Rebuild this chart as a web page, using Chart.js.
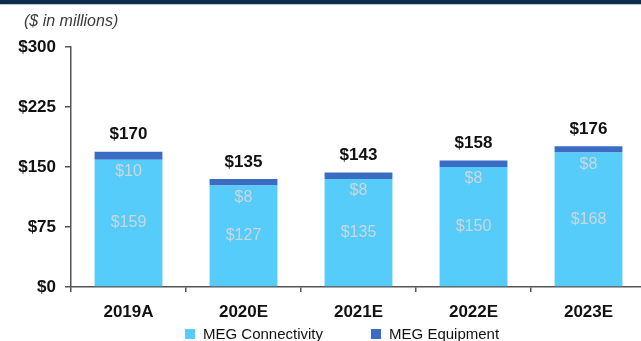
<!DOCTYPE html>
<html>
<head>
<meta charset="utf-8">
<script src="https://cdn.jsdelivr.net/npm/chart.js@4"></script>
<style>
  html, body { margin: 0; padding: 0; background: #fff; overflow: hidden; }
  body { width: 641px; height: 341px; position: relative; font-family: Arial, "Liberation Sans", sans-serif; }
  .topbar { position: absolute; left: 0; top: 0; width: 641px; height: 4px; background: #0d2b4b; box-shadow: 0 1px 1px #b8c0c8; }
  .unit { position: absolute; left: 24px; top: 12px; font-size: 16px; font-style: italic; color: #3a3a3a; }
  #chartBox { position: absolute; left: 0; top: 0; width: 660px; height: 341px; }
  #legend { position: absolute; left: 185px; top: 325px; display: flex; font-size: 15px; color: #111; white-space: nowrap; }
  #legend .item { display: flex; align-items: center; margin-right: 48px; }
  #legend .swatch { width: 10px; height: 10px; margin-right: 8px; }
</style>
</head>
<body>
<div class="topbar"></div>
<div id="chartBox"><canvas id="revChart" width="660" height="341"></canvas></div>
<div class="unit">($ in millions)</div>
<div id="legend"></div>

<script>
const years = ['2019A', '2020E', '2021E', '2022E', '2023E'];
const connectivity = [159, 127, 135, 150, 168];
const equipment = [10, 8, 8, 8, 8];
const totals = [170, 135, 143, 158, 176];
const yTicks = [0, 75, 150, 225, 300];

const connColor = '#55ccfa';
const equipColor = '#3b6cc4';
const boldFont = { family: 'Arial, "Liberation Sans", sans-serif', size: 17, weight: 'bold' };

// value labels: segment amounts inside the bars, totals above them
const barLabels = {
    id: 'barLabels',
    afterDatasetsDraw(chart) {
        const ctx = chart.ctx;
        const connMeta = chart.getDatasetMeta(0);
        const equipMeta = chart.getDatasetMeta(1);
        ctx.save();
        ctx.textAlign = 'center';
        ctx.textBaseline = 'middle';
        connMeta.data.forEach((bar, i) => {
            ctx.font = '16px Arial, "Liberation Sans", sans-serif';
            ctx.fillStyle = '#cdd6dd';
            ctx.fillText('$' + connectivity[i], bar.x, (bar.y + bar.base) / 2);
            ctx.fillText('$' + equipment[i], bar.x, bar.y + 12);

            const top = equipMeta.data[i];
            ctx.font = 'bold 17px Arial, "Liberation Sans", sans-serif';
            ctx.fillStyle = '#111';
            ctx.fillText('$' + totals[i], top.x, top.y - 17);
        });
        ctx.restore();
    }
};

const ctx = document.getElementById('revChart').getContext('2d');
const revChart = new Chart(ctx, {
    type: 'bar',
    data: {
        labels: years,
        datasets: [
            {
                label: 'MEG Connectivity',
                data: connectivity,
                backgroundColor: connColor,
                barPercentage: 0.59,
                categoryPercentage: 1,
            },
            {
                label: 'MEG Equipment',
                data: equipment,
                backgroundColor: equipColor,
                barPercentage: 0.59,
                categoryPercentage: 1,
            },
        ],
    },
    options: {
        responsive: false,
        animation: false,
        layout: { padding: { top: 47, right: 14, left: 0, bottom: 0 } },
        plugins: {
            legend: { display: false },
            tooltip: { enabled: false },
        },
        scales: {
            x: {
                stacked: true,
                afterFit: scale => { scale.height = 54; },
                border: { display: true, color: '#555', width: 1.5 },
                grid: { drawOnChartArea: false, drawTicks: true, tickLength: 5, color: '#555', lineWidth: 1.5 },
                ticks: { color: '#111', font: boldFont, padding: 10 },
            },
            y: {
                stacked: true,
                min: 0,
                max: 300,
                afterFit: scale => { scale.width = 71; },
                afterBuildTicks: scale => { scale.ticks = yTicks.map(v => ({ value: v })); },
                border: { display: true, color: '#555', width: 1.5 },
                grid: { drawOnChartArea: false, drawTicks: true, tickLength: 6, color: '#555', lineWidth: 1.5 },
                ticks: {
                    color: '#111',
                    font: boldFont,
                    padding: 9,
                    callback: v => '$' + v,
                },
            },
        },
    },
    plugins: [barLabels],
});

// legend built from the chart's own datasets
const legendEl = document.getElementById('legend');
revChart.data.datasets.forEach(ds => {
    const item = document.createElement('div');
    item.className = 'item';
    const sw = document.createElement('span');
    sw.className = 'swatch';
    sw.style.background = ds.backgroundColor;
    const txt = document.createElement('span');
    txt.textContent = ds.label;
    item.appendChild(sw);
    item.appendChild(txt);
    legendEl.appendChild(item);
});
</script>
</body>
</html>
